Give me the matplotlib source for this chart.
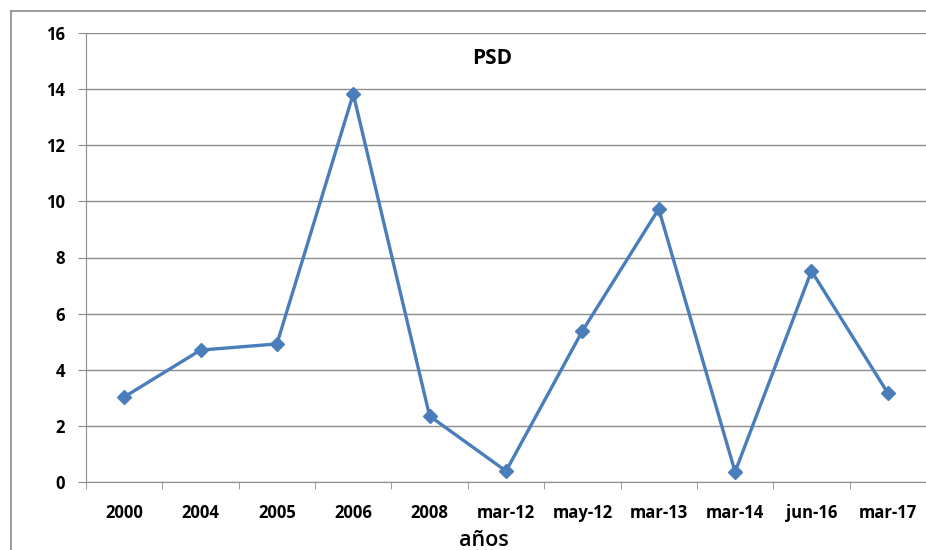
import matplotlib.pyplot as plt

# data
categories = ['2000', '2004', '2005', '2006', '2008', 'mar-12', 'may-12',
              'mar-13', 'mar-14', 'jun-16', 'mar-17']
psd = [3.03, 4.70, 4.92, 13.83, 2.35, 0.39, 5.38, 9.73, 0.36, 7.52, 3.17]
yticks = [0, 2, 4, 6, 8, 10, 12, 14, 16]

plt.rcParams['font.family'] = ['Open Sans', 'DejaVu Sans']

fig = plt.figure(figsize=(9.26, 5.5), dpi=100)
fig.patch.set_facecolor('white')

# outer chart frame: a background axes whose right/bottom edges fall outside the image
fx, fy = 10.5 / 926, 1 - 11 / 550
bg = fig.add_axes([fx, -0.2, 1.3, fy + 0.2])
bg.set_xticks([])
bg.set_yticks([])
bg.patch.set_visible(False)
for s in ['right', 'bottom']:
    bg.spines[s].set_visible(False)
for s in ['left', 'top']:
    bg.spines[s].set_color('#8c8c8c')
    bg.spines[s].set_linewidth(1.2)

ax = fig.add_axes([86 / 926, 1 - 482 / 550, 1 - 86 / 926, (482 - 33) / 550])
ax.patch.set_visible(False)
x = list(range(len(categories)))
ax.plot(x, psd, color='#4A7EBB', linewidth=2.4, marker='D', markersize=7.5,
        markerfacecolor='#4A7EBB', markeredgecolor='#4A7EBB', zorder=3)

ax.set_xlim(-0.5, len(categories) - 0.5)
ax.set_ylim(0, 16)
ax.set_yticks(yticks)
ax.set_xticks(x)
ax.set_xticklabels(categories, fontsize=12, fontweight='bold')
ax.set_yticklabels([str(v) for v in yticks], fontsize=12, fontweight='bold')

# category boundary ticks (the last one falls on the image edge)
ax.set_xticks([i - 0.5 for i in range(len(categories))], minor=True)
ax.tick_params(axis='x', which='major', length=0, pad=16)
ax.tick_params(axis='x', which='minor', length=5, color='#8c8c8c', direction='out')
ax.tick_params(axis='y', length=6, color='#8c8c8c', direction='out', pad=9)

ax.grid(axis='y', color='#8c8c8c', linewidth=1)
ax.set_axisbelow(True)
for s in ['top', 'right']:
    ax.spines[s].set_visible(False)
ax.spines['left'].set_color('#8c8c8c')
ax.spines['bottom'].set_color('#8c8c8c')

fig.text(492 / 926, 1 - 58 / 550, 'PSD', ha='center', va='center',
         fontsize=15, fontweight='bold')
fig.text(484 / 926, 1 - 541 / 550, 'años', ha='center', va='center',
         fontsize=15.5, fontweight='semibold')

fig.savefig('out.png', dpi=100)
